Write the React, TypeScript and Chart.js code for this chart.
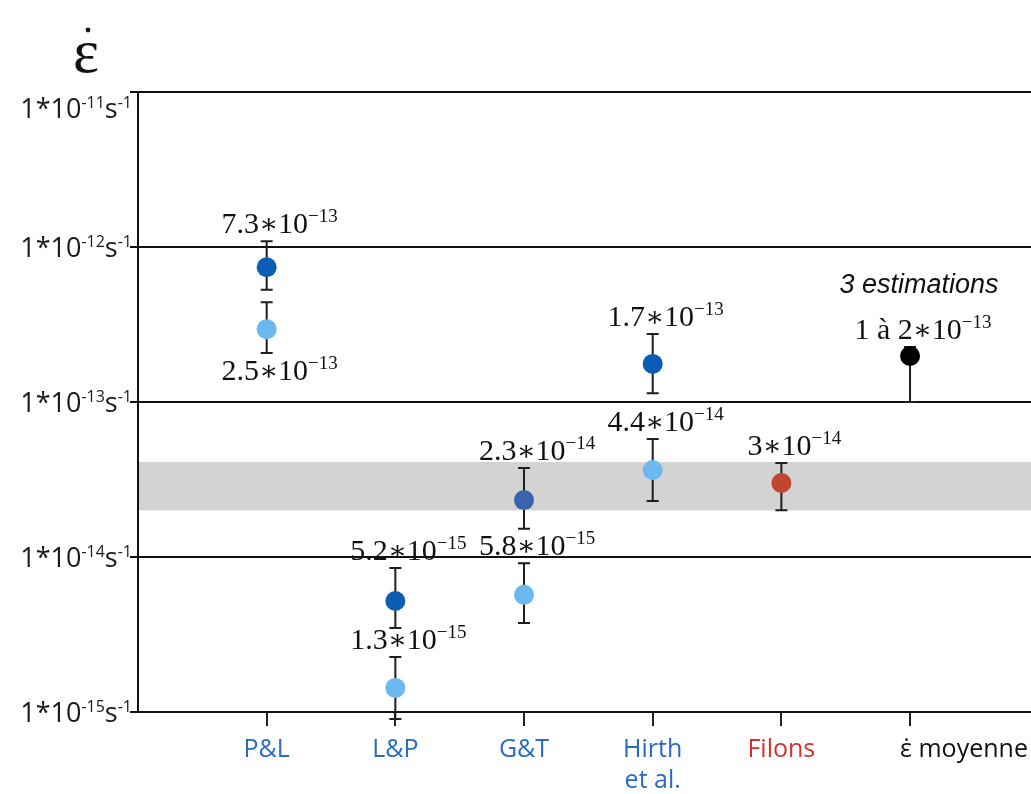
import React, { useEffect, useRef } from "react";
import { Chart, registerables } from "chart.js";

Chart.register(...registerables);

// ---- data ----
const categories: string[][] = [["P&L"], ["L&P"], ["G&T"], ["Hirth", "et al."], ["Filons"], ["ε\u0307 moyenne"]];
const categoryColors = ["#2a6bc0", "#2a6bc0", "#2a6bc0", "#2a6bc0", "#d0332b", "#111111"];
const yDecades = [1e-11, 1e-12, 1e-13, 1e-14, 1e-15];
const yTickExponents = ["-11", "-12", "-13", "-14", "-15"];

const pointCategory = [1, 1, 2, 2, 3, 3, 4, 4, 5, 6];
const pointValue = [7.4e-13, 2.95e-13, 5.2e-15, 1.43e-15, 2.33e-14, 5.7e-15, 1.76e-13, 3.64e-14, 3.0e-14, 1.98e-13];
const errLow = [5.3e-13, 2.07e-13, 3.48e-15, 9e-16, 1.52e-14, 3.75e-15, 1.14e-13, 2.3e-14, 2.0e-14, 1.0e-13];
const errHigh = [1.09e-12, 4.4e-13, 8.5e-15, 2.26e-15, 3.75e-14, 9.1e-15, 2.75e-13, 5.77e-14, 4.04e-14, 2.26e-13];
const pointColors = ["#0b5db3", "#6cb9f2", "#0b5db3", "#6cb9f2", "#3a63ae", "#6cb9f2", "#0b5db3", "#6cb9f2", "#c2452d", "#000000"];
const labelMantissa = ["7.3", "2.5", "5.2", "1.3", "2.3", "5.8", "1.7", "4.4", "3", "1 à 2"];
const labelExponent = ["−13", "−13", "−15", "−15", "−14", "−15", "−13", "−14", "−14", "−13"];
const labelBelow = [false, true, false, false, false, false, false, false, false, false];
const noteText = "3 estimations";
const bandLow = 2.0e-14;
const bandHigh = 4.1e-14;

type Part = { text: string; font: string; dy: number };

function drawParts(ctx: CanvasRenderingContext2D, parts: Part[], x: number, baseline: number, align: "center" | "right", color: string) {
  ctx.save();
  ctx.textAlign = "left";
  ctx.textBaseline = "alphabetic";
  ctx.fillStyle = color;
  let total = 0;
  const widths = parts.map((p) => {
    ctx.font = p.font;
    const w = ctx.measureText(p.text).width;
    total += w;
    return w;
  });
  let cx = align === "center" ? x - total / 2 : x - total;
  parts.forEach((p, i) => {
    ctx.font = p.font;
    ctx.fillText(p.text, cx, baseline - p.dy);
    cx += widths[i];
  });
  ctx.restore();
}

const decorPlugin = {
  id: "decor",
  beforeDatasetsDraw(chart: any) {
    const { ctx, chartArea, scales } = chart;
    const xs = scales.x;
    const ys = scales.y;
    const yTop = ys.getPixelForValue(bandHigh);
    const yBot = ys.getPixelForValue(bandLow);
    ctx.save();
    ctx.fillStyle = "#d3d3d3";
    ctx.fillRect(chartArea.left + 1, yTop, chartArea.right - chartArea.left, yBot - yTop);
    ctx.strokeStyle = "#1e1e1e";
    ctx.lineWidth = 2;
    for (let i = 0; i < pointValue.length; i++) {
      const px = xs.getPixelForValue(pointCategory[i]);
      const hi = ys.getPixelForValue(errHigh[i]);
      const lo = ys.getPixelForValue(errLow[i]);
      ctx.beginPath();
      ctx.moveTo(px, hi);
      ctx.lineTo(px, lo);
      ctx.moveTo(px - 6, hi);
      ctx.lineTo(px + 6, hi);
      ctx.moveTo(px - 6, lo);
      ctx.lineTo(px + 6, lo);
      ctx.stroke();
    }
    ctx.restore();
  },
  afterDraw(chart: any) {
    const { ctx, chartArea, scales } = chart;
    const xs = scales.x;
    const ys = scales.y;
    yDecades.forEach((v, i) => {
      const y = ys.getPixelForValue(v);
      const base = v === ys.max ? y + 26 : y + 10;
      drawParts(
        ctx,
        [
          { text: "1*10", font: "27px 'Open Sans'", dy: 0 },
          { text: yTickExponents[i], font: "16px 'Open Sans'", dy: 10 },
          { text: "s", font: "27px 'Open Sans'", dy: 0 },
          { text: "-1", font: "16px 'Open Sans'", dy: 10 },
        ],
        chartArea.left - 6,
        base,
        "right",
        "#1a1a1a"
      );
    });
    ctx.save();
    ctx.fillStyle = "#111";
    ctx.font = "62px 'Liberation Serif'";
    ctx.textAlign = "center";
    ctx.textBaseline = "alphabetic";
    ctx.fillText("ε", 86, 72);
    ctx.beginPath();
    ctx.arc(88, 30, 2.4, 0, Math.PI * 2);
    ctx.fill();
    ctx.restore();
    ctx.save();
    ctx.textBaseline = "alphabetic";
    ctx.font = "25px 'Open Sans'";
    categories.forEach((lines, i) => {
      const px = xs.getPixelForValue(i + 1);
      const last = i === categories.length - 1;
      ctx.fillStyle = categoryColors[i];
      ctx.textAlign = last ? "left" : "center";
      lines.forEach((ln, j) => {
        ctx.fillText(ln, last ? px - 10 : px, chartArea.bottom + 45 + j * 31);
      });
    });
    ctx.restore();
    for (let i = 0; i < pointValue.length; i++) {
      const px = xs.getPixelForValue(pointCategory[i]) + 13;
      const base = labelBelow[i]
        ? ys.getPixelForValue(errLow[i]) + 27
        : ys.getPixelForValue(errHigh[i]) - 8;
      drawParts(
        ctx,
        [
          { text: labelMantissa[i], font: "30px 'Liberation Serif'", dy: 0 },
          { text: "∗", font: "28px 'DejaVu Serif'", dy: 0 },
          { text: "10", font: "30px 'Liberation Serif'", dy: 0 },
          { text: labelExponent[i], font: "19px 'Liberation Serif'", dy: 11 },
        ],
        px,
        base,
        "center",
        "#111"
      );
      if (i === pointValue.length - 1) {
        ctx.save();
        ctx.font = "italic 27px 'Liberation Sans'";
        ctx.fillStyle = "#111";
        ctx.textAlign = "center";
        ctx.fillText(noteText, px - 4, base - 46);
        ctx.restore();
      }
    }
  },
};

export default function App() {
  const ref = useRef<HTMLCanvasElement | null>(null);
  useEffect(() => {
    if (!ref.current) return;
    const chart = new Chart(ref.current, {
      type: "scatter",
      data: {
        datasets: [
          {
            data: pointValue.map((v, i) => ({ x: pointCategory[i], y: v })),
            pointBackgroundColor: pointColors,
            pointBorderWidth: 0,
            pointRadius: 10,
            pointHoverRadius: 10,
          },
        ],
      },
      options: {
        animation: false,
        responsive: true,
        maintainAspectRatio: false,
        layout: { autoPadding: false, padding: { top: 92, right: 0, left: 0, bottom: 0 } },
        plugins: { legend: { display: false }, tooltip: { enabled: false } },
        scales: {
          x: {
            type: "linear",
            min: 0,
            max: 6.94,
            afterBuildTicks: (s: any) => {
              s.ticks = [1, 2, 3, 4, 5, 6].map((v) => ({ value: v }));
            },
            afterFit: (s: any) => {
              s.height = 82;
            },
            ticks: { display: false },
            grid: { drawOnChartArea: false, drawTicks: true, tickLength: 14, color: "#222", lineWidth: 2 },
            border: { display: true, color: "#111", width: 2 },
          },
          y: {
            type: "logarithmic",
            min: 1e-15,
            max: 1e-11,
            afterBuildTicks: (s: any) => {
              s.ticks = yDecades.map((v) => ({ value: v }));
            },
            afterFit: (s: any) => {
              s.width = 138;
            },
            ticks: { display: false },
            grid: { color: "#111", lineWidth: 2, drawTicks: true, tickLength: 8 },
            border: { display: true, color: "#111", width: 2 },
          },
        },
      },
      plugins: [decorPlugin],
    });
    return () => chart.destroy();
  }, []);
  return (
    <div style={{ position: "fixed", left: 0, top: 0, width: 1031, height: 794, background: "#fff" }}>
      <canvas ref={ref} />
    </div>
  );
}
